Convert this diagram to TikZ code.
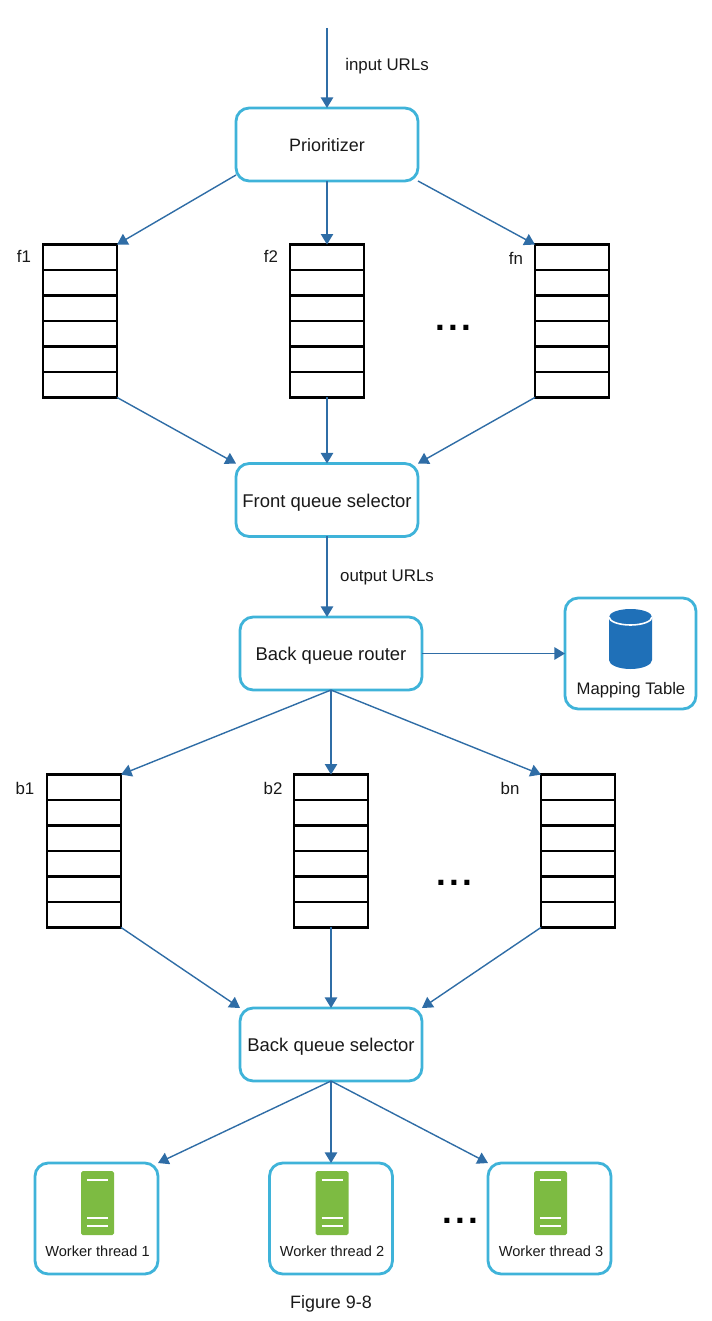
\documentclass[tikz,border=0pt]{standalone}
\usepackage{fontspec}
\setmainfont{Liberation Sans}
\usetikzlibrary{shapes,arrows.meta}
\definecolor{boxline}{HTML}{3FB3D9}
\definecolor{arrowline}{HTML}{2F6DA6}
\definecolor{dbblue}{HTML}{1F70B8}
\definecolor{servergreen}{HTML}{7DBB42}
\tikzstyle{box}=[rectangle,draw=boxline,line width=1.6pt,rounded corners=7.5pt,outer sep=0pt,minimum width=3.64cm,minimum height=1.46cm,text=black!90,text height=8.2pt,text depth=0pt,font=\fontsize{10.5}{12}\selectfont]
\tikzstyle{iconbox}=[box,minimum width=2.46cm,minimum height=2.22cm]
\tikzstyle{queue}=[rectangle split,rectangle split parts=6,rectangle split empty part height=13pt,draw=black,line width=1.5pt,inner ysep=0pt,inner xsep=0pt,outer sep=0pt,minimum width=1.48cm]
\tikzstyle{conn}=[draw=arrowline,line width=0.8pt,-{Triangle[length=6pt,width=7pt]}]
\tikzstyle{lbl}=[text=black!90,font=\fontsize{9.6}{12}\selectfont,inner sep=0pt]
\tikzstyle{small}=[text=black!90,font=\fontsize{8.3}{10}\selectfont,inner sep=0pt]
\tikzstyle{gap}=[font=\fontsize{20}{20}\selectfont\bfseries,inner sep=0pt]
\newcommand{\gapdots}{.\hspace{1.8pt}.\hspace{1.8pt}.}
\newcommand{\servericon}[1]{
	\begin{scope}[shift={(#1,0)}]
		\fill[servergreen,rounded corners=1pt] (-16.5,1171) rectangle (16.5,1235);
		\draw[white,line width=1.2pt] (-10.5,1180) -- (10.5,1180);
		\draw[white,line width=1.2pt] (-10.5,1218) -- (10.5,1218);
		\draw[white,line width=1.2pt] (-10.5,1226) -- (10.5,1226);
	\end{scope}
}
\begin{document}
\begin{tikzpicture}[x=0.02cm,y=-0.02cm]
	\useasboundingbox (0,0) rectangle (711,1321);

	\coordinate (in) at (327,28);
	\node[box,font=\fontsize{10.2}{12}\selectfont] (prior) at (327,144.5) {Prioritizer};
	\node[lbl] (inurl) at (387,66) {input URLs};

	\node[queue] (f1) at (80,321) {};
	\node[queue] (f2) at (327,321) {};
	\node[queue] (fn) at (572,321) {};
	\node[lbl] (f1lbl) at (24,256) {f1};
	\node[lbl] (f2lbl) at (271,256) {f2};
	\node[lbl] (fnlbl) at (516,258) {fn};
	\node[gap] (fdots) at (453,328) {\gapdots};

	\node[box] (fsel) at (327,500) {Front queue selector};
	\node[lbl] (outurl) at (387,577) {output URLs};
	\node[box] (brouter) at (331,653.5) {Back queue router};
	\node[iconbox,minimum width=2.62cm] (map) at (630.5,653.5) {};
	\node[lbl,font=\fontsize{9.5}{12}\selectfont] (maplbl) at (631,690) {Mapping Table};

	% database
	\fill[dbblue] (609,617) arc (180:360:21.5 and 8) -- (652,660) arc (0:180:21.5 and 9) -- cycle;
	\draw[white,line width=0.9pt] (609,617) arc (180:0:21.5 and 8);

	\node[queue] (b1) at (84,851) {};
	\node[queue] (b2) at (331,851) {};
	\node[queue] (bn) at (578,851) {};
	\node[lbl] (b1lbl) at (25,788) {b1};
	\node[lbl] (b2lbl) at (273,788) {b2};
	\node[lbl] (bnlbl) at (510,788) {bn};
	\node[gap] (bdots) at (454.5,883) {\gapdots};

	\node[box] (bsel) at (331,1044.5) {Back queue selector};

	\node[iconbox] (w1) at (96.5,1218.5) {};
	\node[iconbox] (w2) at (331,1218.5) {};
	\node[iconbox] (w3) at (549.5,1218.5) {};
	\servericon{97.5}
	\servericon{332}
	\servericon{550.5}
	\node[small] (w1lbl) at (97.5,1251) {Worker thread 1};
	\node[small] (w2lbl) at (332,1251) {Worker thread 2};
	\node[small] (w3lbl) at (551,1251) {Worker thread 3};
	\node[gap] (wdots) at (460.5,1221) {\gapdots};

	\node[font=\fontsize{10.2}{12}\selectfont,text=black!90,inner sep=0pt] (cap) at (331,1304) {Figure 9-8};

	\draw[conn] (in) -- (prior.north);
	\draw[conn] ([yshift=0.12cm]prior.south west) -- (f1.north east);
	\draw[conn] (prior.south) -- (f2.north);
	\draw[conn] (prior.south east) -- (fn.north west);
	\draw[conn] (f1.south east) -- (fsel.north west);
	\draw[conn] (f2.south) -- (fsel.north);
	\draw[conn] (fn.south west) -- (fsel.north east);
	\draw[conn] (fsel.south) -- (fsel.south |- brouter.north);
	\draw[conn] (brouter.east) -- (map.west);
	\draw[conn] (brouter.south) -- (b1.north east);
	\draw[conn] (brouter.south) -- (b2.north);
	\draw[conn] (brouter.south) -- (bn.north west);
	\draw[conn] (b1.south east) -- (bsel.north west);
	\draw[conn] (b2.south) -- (bsel.north);
	\draw[conn] (bn.south west) -- (bsel.north east);
	\draw[conn] (bsel.south) -- (w1.north east);
	\draw[conn] (bsel.south) -- (w2.north);
	\draw[conn] (bsel.south) -- (w3.north west);
\end{tikzpicture}
\end{document}
